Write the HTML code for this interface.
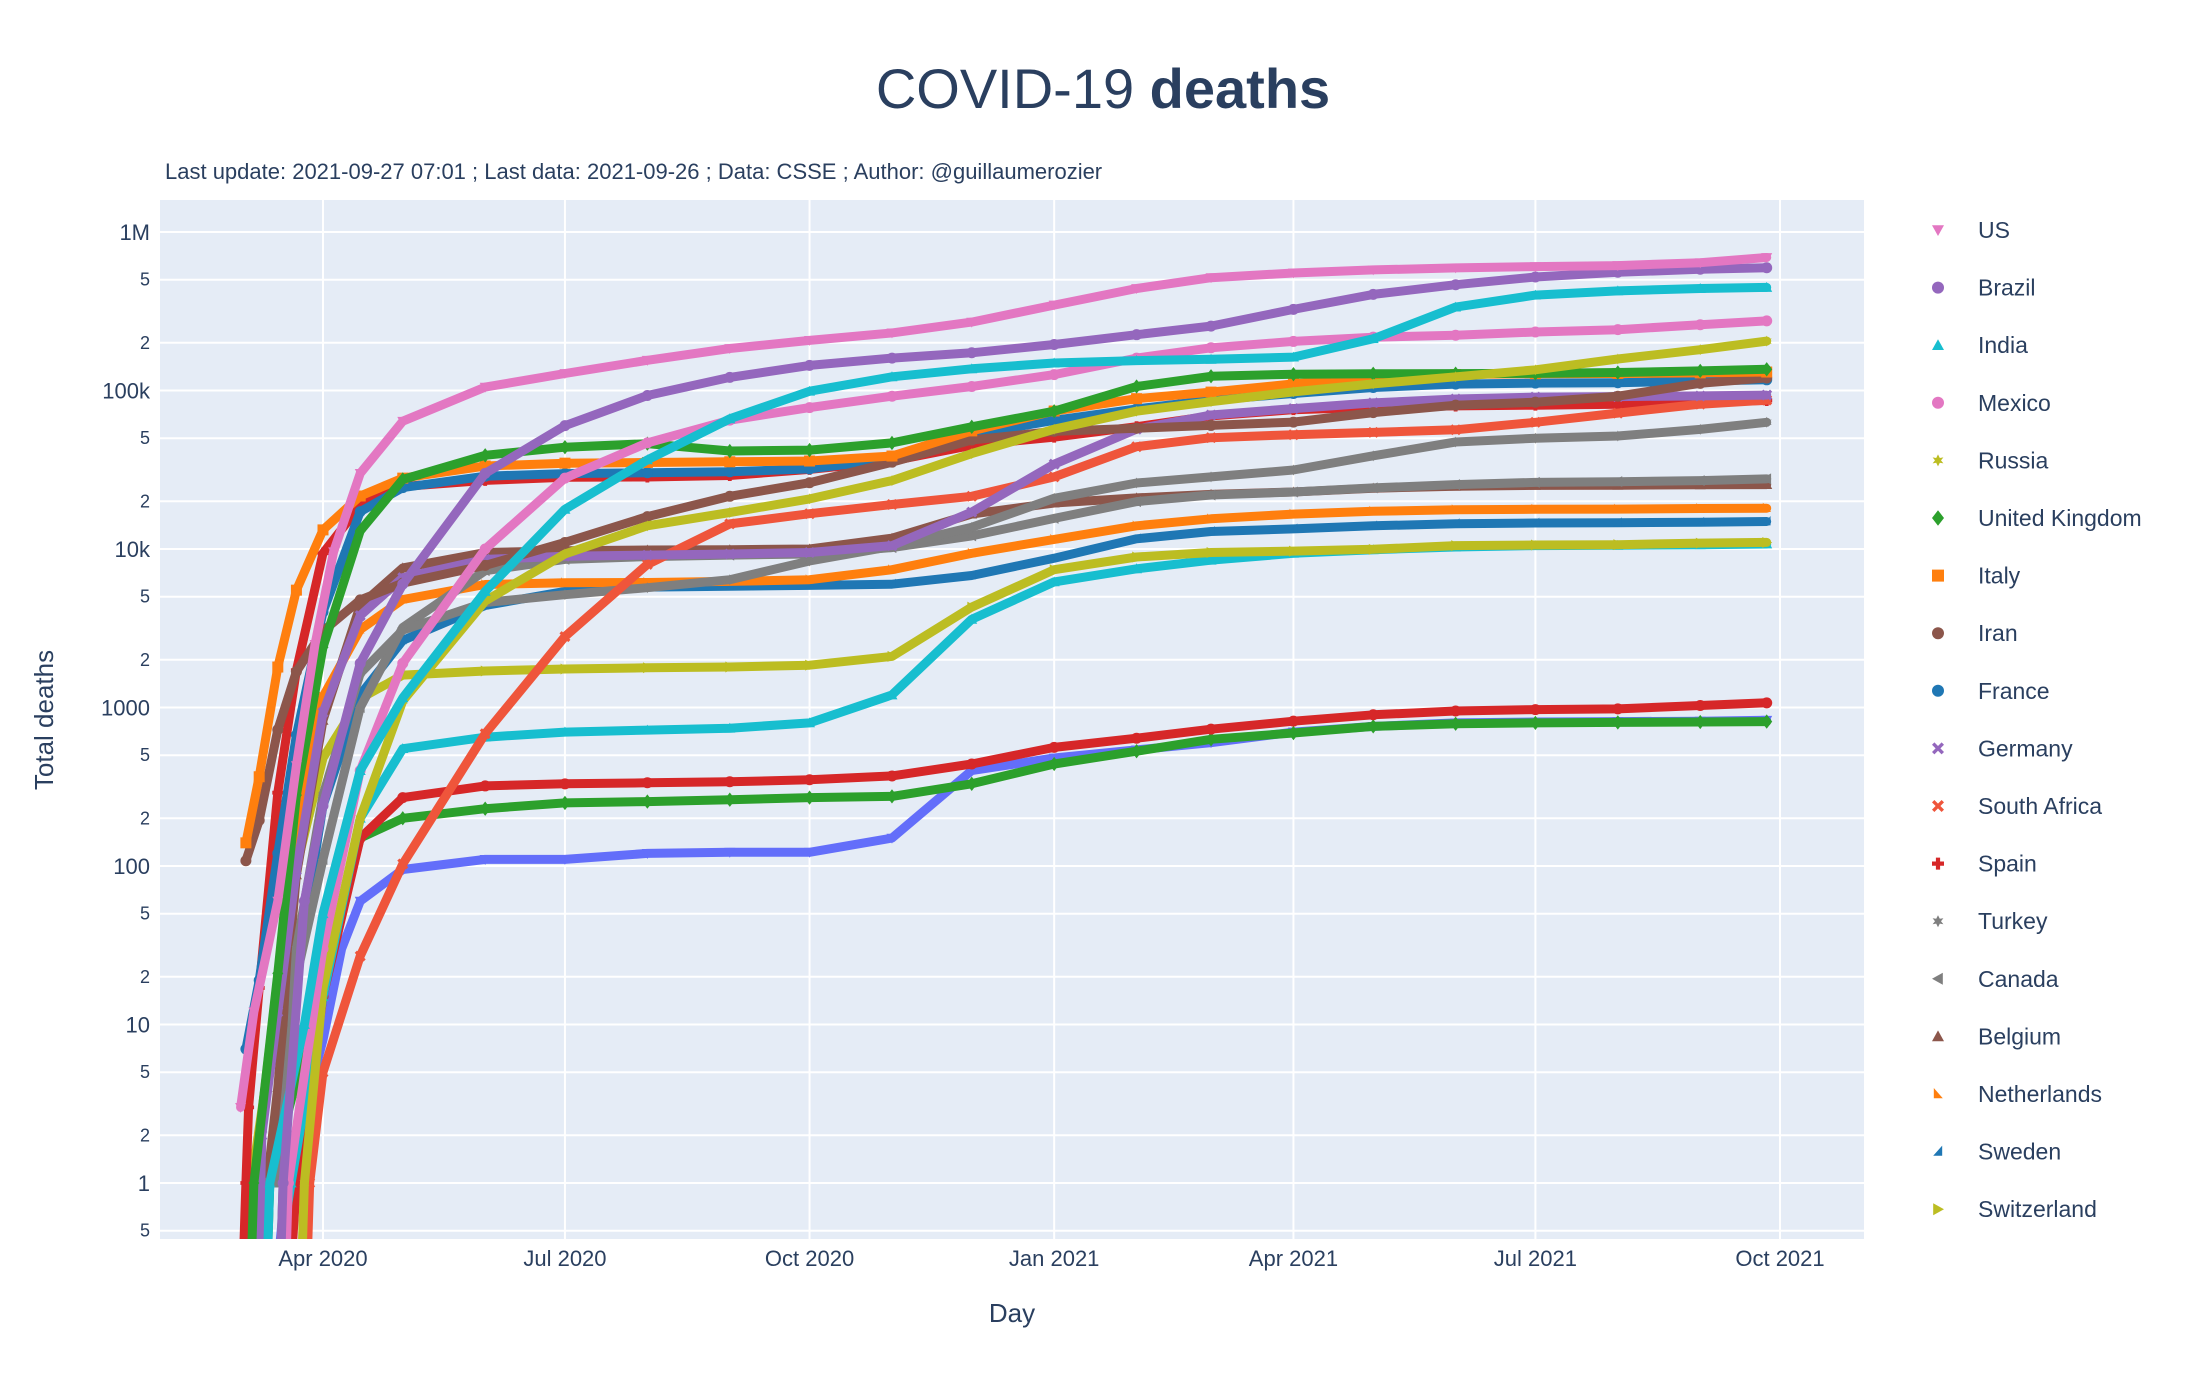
<!DOCTYPE html>
<html><head><meta charset="utf-8">
<style>
html,body{margin:0;padding:0;background:#fff;}
svg{display:block;font-family:"Liberation Sans",sans-serif;}
</style></head>
<body>
<svg id="chart" width="2200" height="1400" viewBox="0 0 2200 1400" xmlns="http://www.w3.org/2000/svg">
  <text x="1103" y="108" text-anchor="middle" font-size="56" fill="#2a3f5f">COVID-19 <tspan font-weight="bold">deaths</tspan></text>
  <text x="165" y="179" font-size="22" fill="#2a3f5f">Last update: 2021-09-27 07:01 ; Last data: 2021-09-26 ; Data: CSSE ; Author: @guillaumerozier</text>
  <rect x="160" y="200" width="1704" height="1039" fill="#e5ecf6"/>
  <g id="grid"></g>
  <defs><clipPath id="clip"><rect x="160" y="200" width="1704" height="1039"/></clipPath></defs>
  <g id="series" clip-path="url(#clip)"></g>
  <g id="yticks"></g>
  <g id="xticks"></g>
  <text x="1012" y="1322" text-anchor="middle" font-size="26" fill="#2a3f5f">Day</text>
  <text transform="translate(53,720) rotate(-90)" text-anchor="middle" font-size="26" fill="#2a3f5f">Total deaths</text>
  <g id="legend"></g>
</svg>
<script>
const tailDates = ['2020-05-01','2020-06-01','2020-07-01','2020-08-01','2020-09-01','2020-10-01','2020-11-01','2020-12-01','2021-01-01','2021-02-01','2021-03-01','2021-04-01','2021-05-01','2021-06-01','2021-07-01','2021-08-01','2021-09-01','2021-09-26'];
const seriesNames = ['US','Brazil','India','Mexico','Russia','United Kingdom','Italy','Iran','France','Germany','South Africa','Spain','Turkey','Canada','Belgium','Netherlands','Sweden','Switzerland','Other A','Other B','Other C','Other D'];
const seriesColors = ['#e377c2','#9467bd','#17becf','#e377c2','#bcbd22','#2ca02c','#ff7f0e','#8c564b','#1f77b4','#9467bd','#ef553b','#d62728','#7f7f7f','#7f7f7f','#8c564b','#ff7f0e','#1f77b4','#bcbd22','#17becf','#d62728','#2ca02c','#636efa'];
const seriesSymbols = ['tdown','circle','tup','circle','star','diamond','square','circle','circle','x','x','cross','star','tleft','tup','tne','tnw','tright','tup','circle','diamond','tdown'];
const earlyDates = [
 ['2020-03-01','2020-03-06','2020-03-15','2020-03-22','2020-03-29','2020-04-05','2020-04-15'],
 ['2020-03-16','2020-03-17','2020-03-25','2020-04-01','2020-04-15'],
 ['2020-03-11','2020-03-12','2020-03-25','2020-04-01','2020-04-15'],
 ['2020-03-18','2020-03-19','2020-04-01','2020-04-15'],
 ['2020-03-24','2020-03-25','2020-04-01','2020-04-15'],
 ['2020-03-05','2020-03-06','2020-03-15','2020-03-22','2020-04-01','2020-04-15'],
 ['2020-03-03','2020-03-08','2020-03-15','2020-03-22','2020-04-01','2020-04-15'],
 ['2020-03-03','2020-03-08','2020-03-15','2020-03-22','2020-04-01','2020-04-15'],
 ['2020-03-03','2020-03-08','2020-03-15','2020-03-22','2020-04-01','2020-04-15'],
 ['2020-03-08','2020-03-09','2020-03-15','2020-03-22','2020-04-01','2020-04-15'],
 ['2020-03-26','2020-03-27','2020-04-01','2020-04-15'],
 ['2020-03-02','2020-03-03','2020-03-04','2020-03-08','2020-03-15','2020-03-22','2020-04-01','2020-04-15'],
 ['2020-03-16','2020-03-17','2020-03-22','2020-04-01','2020-04-15'],
 ['2020-03-08','2020-03-09','2020-03-15','2020-03-22','2020-04-01','2020-04-15'],
 ['2020-03-10','2020-03-11','2020-03-15','2020-03-22','2020-04-01','2020-04-15'],
 ['2020-03-05','2020-03-06','2020-03-15','2020-03-22','2020-04-01','2020-04-15'],
 ['2020-03-10','2020-03-11','2020-03-15','2020-03-22','2020-04-01','2020-04-15'],
 ['2020-03-03','2020-03-05','2020-03-15','2020-03-22','2020-04-01','2020-04-15'],
 ['2020-03-15','2020-03-20','2020-04-01','2020-04-15'],
 ['2020-03-20','2020-03-22','2020-04-01','2020-04-15'],
 ['2020-03-11','2020-03-12','2020-04-01','2020-04-15'],
 ['2020-03-15','2020-03-18','2020-04-01','2020-04-08','2020-04-15']
];
const earlyValues = [
 [3,12,60,430,2500,9600,30000],
 [0.3,1,60,240,1900],
 [0.3,1,10,50,400],
 [0.3,1,30,400],
 [0.3,1,17,200],
 [0.3,1,21,280,2400,13000],
 [140,366,1800,5500,13200,21600],
 [108,194,724,1685,3036,4777],
 [7,19,120,670,4000,17200],
 [0.3,2,12,94,930,3800],
 [0.3,1,5,27],
 [0.3,1,3,17,290,1720,9400,18800],
 [0.3,1,30,280,1640],
 [0.3,1,1,20,110,1000],
 [0.3,1,4,88,830,4400],
 [0.3,1,20,180,1170,3100],
 [0.3,1,3,21,240,1200],
 [0.3,1,14,98,480,1140],
 [0.3,1,15,200],
 [0.3,1,15,150],
 [0.3,1,20,150],
 [0.3,1,8,30,60]
];
const tailValues = [
 [64000,105000,128000,155000,184000,207000,231000,270000,346000,440000,515000,551000,577000,594000,605000,614000,640000,690000],
 [6000,30000,60000,93000,121000,144000,160000,173000,195000,225000,255000,325000,404000,465000,520000,557000,582000,595000],
 [1150,5400,17800,36500,66300,99000,122000,137000,149000,154500,157300,162500,212000,336000,400000,425000,440000,447000],
 [1900,10000,28000,46700,65000,78000,92000,106000,126000,160000,186000,204000,217000,223000,234000,242000,260000,275000],
 [1100,4700,9300,14000,17000,20700,27000,40000,57000,74000,85000,98000,110000,122000,135000,158000,181000,205000],
 [27500,39000,43900,46200,41500,42100,46700,59000,74000,106000,123000,126700,127500,127800,128200,129800,133000,136000],
 [28000,33400,34800,35150,35500,35900,38600,55600,74200,88800,97700,110000,120800,126100,127600,128100,129200,130800],
 [6091,7878,11000,16000,21500,26200,35300,48700,55200,57800,60200,63200,72500,80800,84400,92000,111000,120000],
 [24400,28800,29900,30300,30700,32000,37000,52800,64900,76500,86800,95700,104500,109700,111300,112000,114800,116800],
 [6600,8600,9000,9150,9300,9500,10500,17100,34300,57100,70100,76900,83500,88400,90900,91500,92400,93600],
 [103,683,2800,8000,14400,16700,19100,21500,28500,44200,50400,52600,54400,56500,63000,72000,82000,87000],
 [24800,27100,28350,28450,29100,31800,35900,45100,50800,59100,69100,75700,78300,79900,80800,81800,85000,86500],
 [3080,4600,5150,5700,6400,8400,10400,13700,20900,26100,28500,31500,38700,47300,50000,51600,56800,63000],
 [3200,7300,8600,8950,9150,9300,10200,12100,15600,19900,21900,22900,24300,25500,26300,26600,27000,27700],
 [7600,9500,9750,9850,9900,10000,11700,16600,19500,21000,22100,22900,24200,24900,25200,25250,25400,25500],
 [4800,5970,6130,6150,6250,6400,7400,9400,11500,14000,15500,16600,17300,17700,17800,17850,18000,18100],
 [2650,4400,5400,5750,5820,5890,6000,6800,8750,11600,12900,13400,14000,14450,14600,14650,14750,14900],
 [1600,1700,1750,1780,1800,1850,2100,4300,7400,8900,9500,9700,9950,10500,10600,10650,10900,11000],
 [550,650,700,720,740,800,1200,3600,6200,7500,8500,9400,9900,10300,10500,10550,10650,10750],
 [270,320,330,335,340,350,370,440,560,640,730,820,900,950,970,980,1030,1070],
 [200,230,250,255,262,270,275,330,440,530,630,690,760,790,800,805,810,815],
 [95,110,110,120,122,122,150,400,480,540,600,700,760,800,810,815,820,830]
];
const xTickDates = ['2020-04-01','2020-07-01','2020-10-01','2021-01-01','2021-04-01','2021-07-01','2021-10-01'];
const xTickLabels = ['Apr 2020','Jul 2020','Oct 2020','Jan 2021','Apr 2021','Jul 2021','Oct 2021'];
const yTickValues = [0.5,1,2,5,10,20,50,100,200,500,1000,2000,5000,10000,20000,50000,100000,200000,500000,1000000];
const yTickLabels = ['5','1','2','5','10','2','5','100','2','5','1000','2','5','10k','2','5','100k','2','5','1M'];
const yTickMajor = [0,1,0,0,1,0,0,1,0,0,1,0,0,1,0,0,1,0,0,1];

const NS='http://www.w3.org/2000/svg';
const PL=160, PR=1864, PT=200, PB=1239;
const T0=Date.parse('2020-04-01'), T1=Date.parse('2021-10-01');
const X0=323, X1=1780;
function xScale(d){return X0+(Date.parse(d)-T0)/(T1-T0)*(X1-X0);}
const Y1=1183, DEC=158.5;
function yScale(v){return Y1-Math.log10(v)*DEC;}
function mk(tag,attrs,parent){const e=document.createElementNS(NS,tag);for(const k in attrs)e.setAttribute(k,attrs[k]);parent.appendChild(e);return e;}

const grid=document.getElementById('grid');
yTickValues.forEach((v,i)=>{
  const y=yScale(v);
  const l=mk('line',{x1:PL,x2:PR,y1:y,y2:y,stroke:'#fff','stroke-width':2},grid);
  
  
  const t=mk('text',{x:150,y:y+(yTickMajor[i]?8:6),'text-anchor':'end','font-size':yTickMajor[i]?22:18,fill:'#2a3f5f'},document.getElementById('yticks'));
  t.textContent=yTickLabels[i];
  
  
});
xTickDates.forEach((d,i)=>{
  const x=xScale(d);
  const l=mk('line',{x1:x,x2:x,y1:PT,y2:PB,stroke:'#fff','stroke-width':2},grid);
  
  
  const t=mk('text',{x:x,y:1266,'text-anchor':'middle','font-size':22,fill:'#2a3f5f'},document.getElementById('xticks'));
  t.textContent=xTickLabels[i];
  
  
});

function symbolPath(s,x,y,r){
  switch(s){
    case 'circle': return `M${x+r},${y}A${r},${r} 0 1 1 ${x-r},${y}A${r},${r} 0 1 1 ${x+r},${y}Z`;
    case 'square': return `M${x-r},${y-r}h${2*r}v${2*r}h${-2*r}Z`;
    case 'diamond': return `M${x},${y-r*1.3}L${x+r},${y}L${x},${y+r*1.3}L${x-r},${y}Z`;
    case 'tup': return `M${x},${y-r}L${x+r},${y+r*0.8}L${x-r},${y+r*0.8}Z`;
    case 'tdown': return `M${x},${y+r}L${x+r},${y-r*0.8}L${x-r},${y-r*0.8}Z`;
    case 'tleft': return `M${x-r},${y}L${x+r*0.8},${y-r}L${x+r*0.8},${y+r}Z`;
    case 'tright': return `M${x+r},${y}L${x-r*0.8},${y-r}L${x-r*0.8},${y+r}Z`;
    case 'tne': return `M${x-r*0.7},${y-r}L${x+r*0.8},${y+r*0.7}L${x-r*0.7},${y+r*0.7}Z`;
    case 'tnw': return `M${x+r*0.7},${y-r}L${x+r*0.7},${y+r*0.7}L${x-r*0.8},${y+r*0.7}Z`;
    case 'cross': return `M${x-r*0.35},${y-r}h${r*0.7}v${r*0.65}h${r*0.65}v${r*0.7}h${-r*0.65}v${r*0.65}h${-r*0.7}v${-r*0.65}h${-r*0.65}v${-r*0.7}h${r*0.65}Z`;
    case 'x': return `M${x-r},${y-r*0.6}L${x-r*0.6},${y-r}L${x},${y-r*0.4}L${x+r*0.6},${y-r}L${x+r},${y-r*0.6}L${x+r*0.4},${y}L${x+r},${y+r*0.6}L${x+r*0.6},${y+r}L${x},${y+r*0.4}L${x-r*0.6},${y+r}L${x-r},${y+r*0.6}L${x-r*0.4},${y}Z`;
    case 'star': return `M${x},${y-r}L${x+r*0.3},${y-r*0.4}L${x+r*0.9},${y-r*0.5}L${x+r*0.5},${y}L${x+r*0.9},${y+r*0.5}L${x+r*0.3},${y+r*0.4}L${x},${y+r}L${x-r*0.3},${y+r*0.4}L${x-r*0.9},${y+r*0.5}L${x-r*0.5},${y}L${x-r*0.9},${y-r*0.5}L${x-r*0.3},${y-r*0.4}Z`;
  }
}

const sg=document.getElementById('series');
for(let i=seriesNames.length-1;i>=0;i--){
  const dates=earlyDates[i].concat(tailDates);
  const vals=earlyValues[i].concat(tailValues[i]);
  const g=mk('g',{},sg);
  
  
  const pts=dates.map((d,k)=>xScale(d).toFixed(1)+','+yScale(vals[k]).toFixed(1)).join(' ');
  const pl=mk('polyline',{points:pts,fill:'none',stroke:seriesColors[i],'stroke-width':9,'stroke-linejoin':'round','stroke-linecap':'round'},g);
  
  
  dates.forEach((d,k)=>{
    const m=mk('path',{d:symbolPath(seriesSymbols[i],xScale(d),yScale(vals[k]),5.5),fill:seriesColors[i]},g);
    
    
  });
}

const lg=document.getElementById('legend');
for(let i=0;i<18;i++){
  const y=230+i*57.6;
  const g=mk('g',{},lg);
  
  
  mk('path',{d:symbolPath(seriesSymbols[i],1938,y,6),fill:seriesColors[i]},g);
  const t=mk('text',{x:1978,y:y+8,'font-size':23,fill:'#2a3f5f'},g);
  t.textContent=seriesNames[i];
}
</script>
</body></html>
